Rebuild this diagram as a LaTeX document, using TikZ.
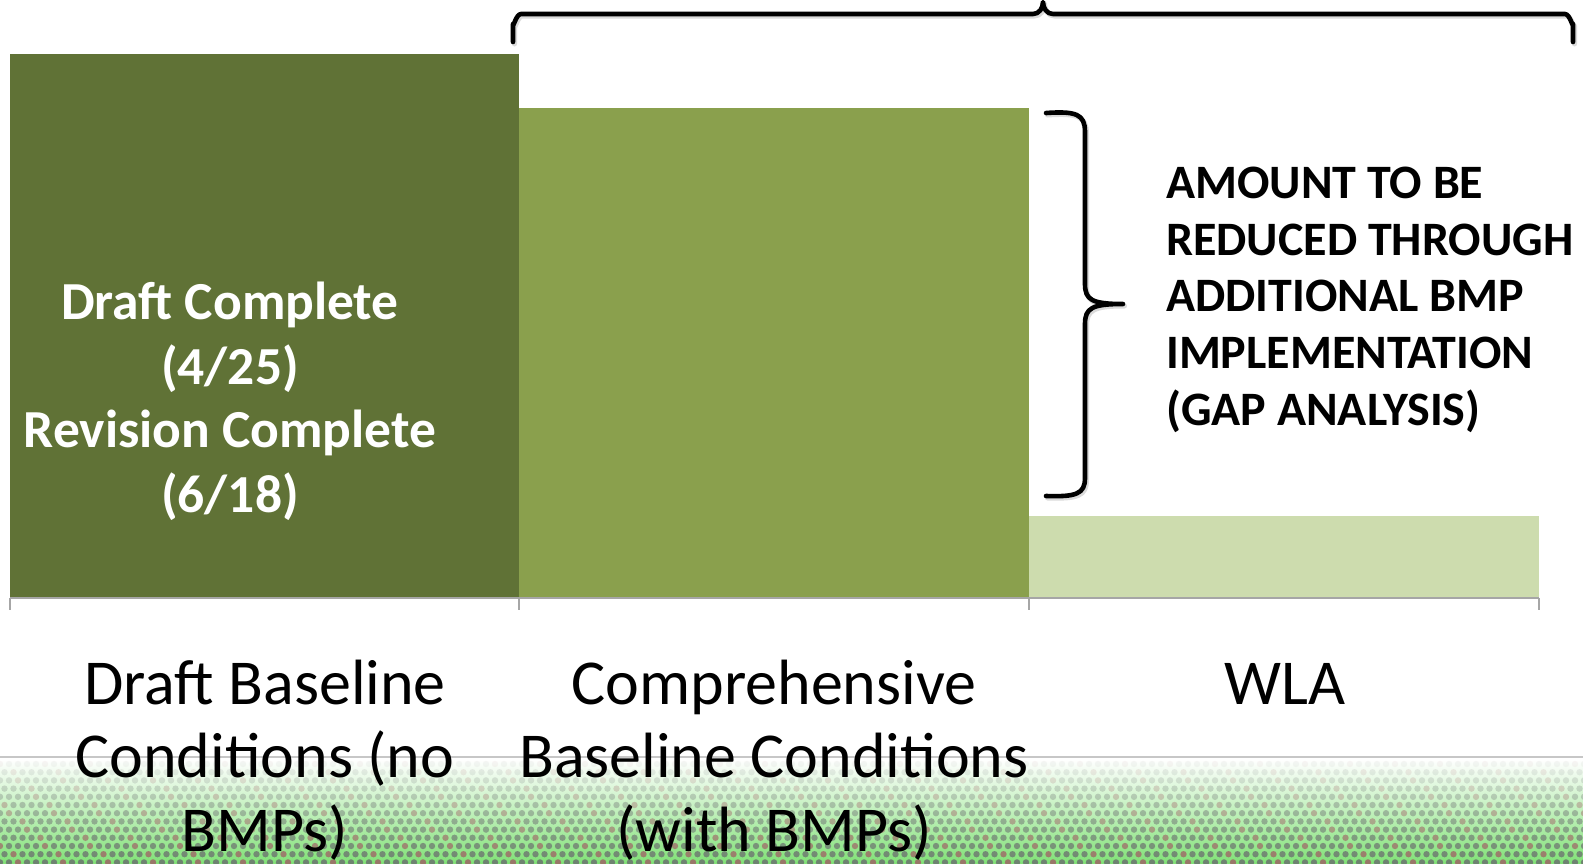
\documentclass[tikz,border=0pt]{standalone}
\usepackage{fontspec}
\setmainfont{Carlito}
\begin{document}
\begin{tikzpicture}[x=1pt,y=-1pt,
  axisline/.style={draw=axisgray,line width=2pt},
  bracepath/.style={draw=black,line width=4.6pt,line cap=round,line join=round},
  braceshadow/.style={draw=black!35,line width=5pt,line cap=round,line join=round,opacity=0.4},
  whitetxt/.style={text=white,font=\bfseries\fontsize{53.5}{62}\selectfont,anchor=base,inner sep=0pt},
  gaptxt/.style={text=black,font=\bfseries\fontsize{48}{57}\selectfont,anchor=base west,inner sep=0pt},
  cattxt/.style={text=black,font=\fontsize{64}{73}\selectfont,anchor=base,inner sep=0pt}]
\definecolor{darkgreen}{RGB}{96,114,54}
\definecolor{midgreen}{RGB}{138,160,77}
\definecolor{lightgreen}{RGB}{205,220,174}
\definecolor{axisgray}{RGB}{166,166,166}
\definecolor{texgreen}{RGB}{130,225,120}
\definecolor{dotgray}{RGB}{105,105,110}
\definecolor{dotred}{RGB}{160,90,100}
\useasboundingbox (0,0) rectangle (1583,863);
\fill[white] (0,0) rectangle (1583,863);
% bottom textured band
\shade[top color=white,bottom color=texgreen] (0,759) rectangle (1583,863);
\foreach \r in {0,...,12}{
  \pgfmathsetmacro{\yy}{764+\r*8.2}
  \pgfmathsetmacro{\op}{0.06+\r*0.06}
  \pgfmathsetmacro{\xo}{mod(\r,2)*4.5}
  \foreach \c in {0,...,176}{
    \pgfmathtruncatemacro{\k}{mod(\c*7+\r*3,5)}
    \ifnum\k=0
      \fill[dotred,opacity=\op] (\xo+\c*9,\yy) circle (3.2);
    \else
      \fill[dotgray,opacity=\op] (\xo+\c*9,\yy) circle (3.2);
    \fi
  }
}
\draw[draw=black!22,line width=1.5pt] (0,757) -- (1583,757);
% bars
\fill[darkgreen] (10,54) rectangle (519,597);
\fill[midgreen] (519,108) rectangle (1029,597);
\fill[lightgreen] (1029,516) rectangle (1539,597);
% axis
\coordinate (a0) at (10,598);
\coordinate (a3) at (1539,598);
\draw[axisline] (a0) -- (a3);
\foreach \x/\n in {10/t0,519/t1,1029/t2,1539/t3}{
  \coordinate (\n) at (\x,598);
  \draw[axisline] (\n) -- ++(0,12);
}
% top brace
\begin{scope}[shift={(1.5,2)}]
\draw[braceshadow] (513,42) -- (513,24) to[out=-90,in=180] (521,14) -- (1033,14) to[out=0,in=-90] (1043,2) to[out=-90,in=180] (1053,14) -- (1565,14) to[out=0,in=-90] (1573,24) -- (1573,42);
\end{scope}
\draw[bracepath] (513,42) -- (513,24) to[out=-90,in=180] (521,14) -- (1033,14) to[out=0,in=-90] (1043,2) to[out=-90,in=180] (1053,14) -- (1565,14) to[out=0,in=-90] (1573,24) -- (1573,42);
% right brace
\begin{scope}[shift={(1.5,2)}]
\draw[braceshadow] (1046,113) .. controls (1076,111) and (1085,114) .. (1085,132) -- (1085,284) .. controls (1085,300) and (1092,304) .. (1123,304) .. controls (1092,304) and (1085,308) .. (1085,324) -- (1085,478) .. controls (1085,494) and (1076,497) .. (1046,496);
\end{scope}
\draw[bracepath] (1046,113) .. controls (1076,111) and (1085,114) .. (1085,132) -- (1085,284) .. controls (1085,300) and (1092,304) .. (1123,304) .. controls (1092,304) and (1085,308) .. (1085,324) -- (1085,478) .. controls (1085,494) and (1076,497) .. (1046,496);
% white text in dark bar
\node[whitetxt] (w1) at (230,319) {Draft Complete};
\node[whitetxt] (w2) at (230,384) {(4/25)};
\node[whitetxt] (w3) at (230,447) {Revision Complete};
\node[whitetxt] (w4) at (230,512) {(6/18)};
% gap analysis text
\node[gaptxt] (g1) at (1166,198) {AMOUNT TO BE};
\node[gaptxt] (g2) at (1166,255) {REDUCED THROUGH};
\node[gaptxt] (g3) at (1166,311) {ADDITIONAL BMP};
\node[gaptxt] (g4) at (1166,368) {IMPLEMENTATION};
\node[gaptxt] (g5) at (1166,425) {(GAP ANALYSIS)};
% category labels
\node[cattxt] (c1a) at (265,704) {Draft Baseline};
\node[cattxt] (c1b) at (265,777) {Conditions (no};
\node[cattxt] (c1c) at (265,851) {BMPs)};
\node[cattxt] (c2a) at (774,704) {Comprehensive};
\node[cattxt] (c2b) at (774,777) {Baseline Conditions};
\node[cattxt] (c2c) at (774,851) {(with BMPs)};
\node[cattxt] (c3a) at (1285,704) {WLA};
\end{tikzpicture}
\end{document}
